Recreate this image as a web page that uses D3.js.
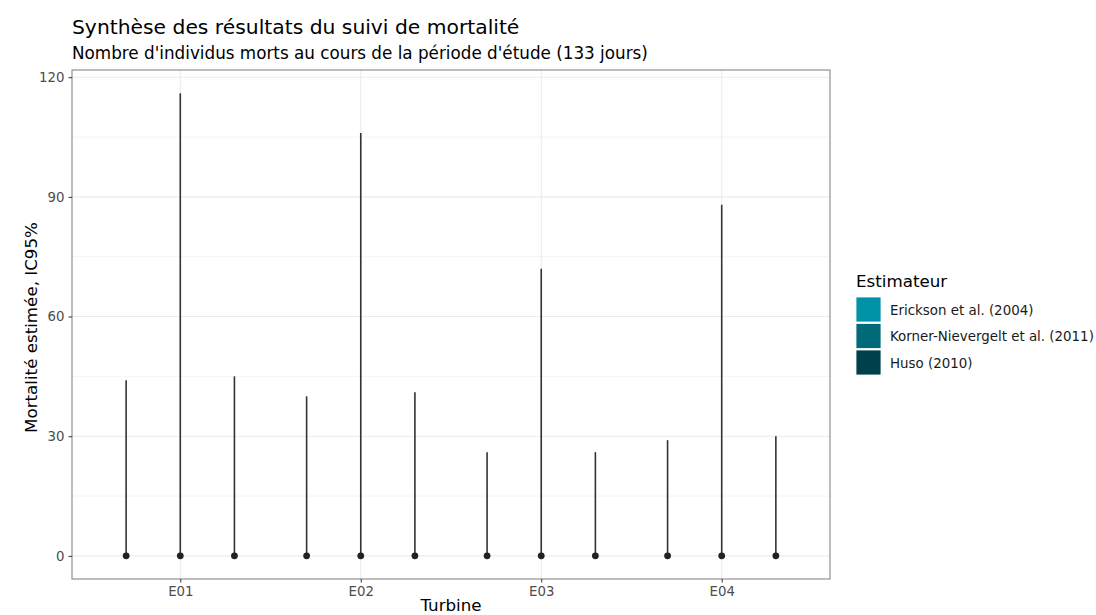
<!DOCTYPE html>
<html>
<head>
<meta charset="utf-8">
<script src="https://cdn.jsdelivr.net/npm/d3@7"></script>
<style>
  body { margin: 0; background: #fff; }
  text { font-family: "DejaVu Sans", sans-serif; }
</style>
</head>
<body>
<svg id="chart"></svg>
<script>
const turbines = ["E01", "E02", "E03", "E04"];
const estimators = ["Erickson et al. (2004)", "Korner-Nievergelt et al. (2011)", "Huso (2010)"];
const estimatorColors = ["#0093a8", "#006a79", "#00404b"];
// one value per turbine for each estimator
const pointErickson = [0, 0, 0, 0];
const upperErickson = [44, 40, 26, 29];
const pointKorner = [0, 0, 0, 0];
const upperKorner = [116, 106, 72, 88];
const pointHuso = [0, 0, 0, 0];
const upperHuso = [45, 41, 26, 30];
const yTicks = [0, 30, 60, 90, 120];

const width = 1096, height = 615;
const margin = {top: 70, right: 266, bottom: 36, left: 72};

const svg = d3.select("#chart")
    .attr("width", width)
    .attr("height", height);

let rows = [];
const points = [pointErickson, pointKorner, pointHuso];
const uppers = [upperErickson, upperKorner, upperHuso];
turbines.forEach((t, i) => {
    estimators.forEach((e, j) => {
        rows.push({turbine: t, estimator: e, est: points[j][i], lower: 0, upper: uppers[j][i]});
    });
});

// discrete scale with ggplot-like 0.6 expansion
let xIndex = d3.scaleLinear()
    .domain([0.4, turbines.length + 0.6])
    .range([margin.left, width - margin.right]);
let x = t => xIndex(turbines.indexOf(t) + 1);
let dodge = d3.scalePoint()
    .domain(estimators)
    .range([-0.3, 0.3]);

let maxY = d3.max(rows, d => d.upper);
let pad = maxY * 0.05;
let y = d3.scaleLinear()
    .domain([-pad, maxY + pad])
    .range([height - margin.bottom, margin.top]);

let panel = svg.append("g");

// minor grid
let minor = d3.range(15, 121, 30);
panel.selectAll(".minor")
    .data(minor)
    .enter().append("line")
    .attr("x1", margin.left).attr("x2", width - margin.right)
    .attr("y1", d => y(d)).attr("y2", d => y(d))
    .attr("stroke", "#ebebeb").attr("stroke-width", 0.55);

// major grid
panel.selectAll(".majorY")
    .data(yTicks)
    .enter().append("line")
    .attr("x1", margin.left).attr("x2", width - margin.right)
    .attr("y1", d => y(d)).attr("y2", d => y(d))
    .attr("stroke", "#ebebeb").attr("stroke-width", 1.1);

panel.selectAll(".majorX")
    .data(turbines)
    .enter().append("line")
    .attr("x1", d => x(d)).attr("x2", d => x(d))
    .attr("y1", margin.top).attr("y2", height - margin.bottom)
    .attr("stroke", "#ebebeb").attr("stroke-width", 1.1);

// intervals
svg.selectAll(".ci")
    .data(rows)
    .enter().append("line")
    .attr("x1", d => xIndex(turbines.indexOf(d.turbine) + 1 + dodge(d.estimator)))
    .attr("x2", d => xIndex(turbines.indexOf(d.turbine) + 1 + dodge(d.estimator)))
    .attr("y1", d => y(d.lower))
    .attr("y2", d => y(d.upper))
    .attr("stroke", "#333333")
    .attr("stroke-width", 1.6);

svg.selectAll(".pt")
    .data(rows)
    .enter().append("circle")
    .attr("cx", d => xIndex(turbines.indexOf(d.turbine) + 1 + dodge(d.estimator)))
    .attr("cy", d => y(d.est))
    .attr("r", 3.4)
    .attr("fill", "#222222");

// panel border
svg.append("rect")
    .attr("x", margin.left).attr("y", margin.top)
    .attr("width", width - margin.left - margin.right)
    .attr("height", height - margin.top - margin.bottom)
    .attr("fill", "none")
    .attr("stroke", "#333333")
    .attr("stroke-width", 1.1)
    .attr("stroke-opacity", 0.6);

// axes
let yAxis = svg.append("g")
    .attr("transform", `translate(${margin.left},0)`)
    .call(d3.axisLeft(y).tickValues(yTicks).tickSize(3.5).tickPadding(4));
let xAxis = svg.append("g")
    .attr("transform", `translate(0,${height - margin.bottom})`)
    .call(d3.axisBottom(xIndex).tickValues(d3.range(1, turbines.length + 1))
        .tickFormat(i => turbines[i - 1]).tickSize(3.5).tickPadding(4));
[xAxis, yAxis].forEach(a => {
    a.select(".domain").remove();
    a.selectAll("line").attr("stroke", "#333333");
    a.selectAll("text").attr("fill", "#4d4d4d").attr("font-size", "13.3px")
        .style("font-family", "DejaVu Sans, sans-serif");
});

// titles
svg.append("text")
    .attr("x", margin.left).attr("y", 34)
    .attr("font-size", "20.3px").attr("fill", "#000")
    .text("Synthèse des résultats du suivi de mortalité");
svg.append("text")
    .attr("x", margin.left).attr("y", 59)
    .attr("font-size", "16.8px").attr("fill", "#000")
    .text("Nombre d'individus morts au cours de la période d'étude (133 jours)");
svg.append("text")
    .attr("x", (margin.left + width - margin.right) / 2).attr("y", 611)
    .attr("text-anchor", "middle")
    .attr("font-size", "16.7px")
    .text("Turbine");
svg.append("text")
    .attr("transform", `translate(37,${(margin.top + height - margin.bottom) / 2 + 3}) rotate(-90)`)
    .attr("text-anchor", "middle")
    .attr("font-size", "16.7px")
    .text("Mortalité estimée, IC95%");

// legend
let legend = svg.append("g").attr("transform", "translate(856,0)");
legend.append("text")
    .attr("x", 0).attr("y", 287)
    .attr("font-size", "16.7px")
    .text("Estimateur");
let items = legend.selectAll(".item")
    .data(estimators)
    .enter().append("g")
    .attr("transform", (d, i) => `translate(0,${297 + i * 26.5})`);
items.append("rect")
    .attr("width", 25).attr("height", 25)
    .attr("fill", (d, i) => estimatorColors[i])
    .attr("stroke", "#fff").attr("stroke-width", 0.8);
items.append("text")
    .attr("x", 34).attr("y", 17.5)
    .attr("font-size", "13.4px")
    .attr("fill", "#1a1a1a")
    .text(d => d);
</script>
</body>
</html>
